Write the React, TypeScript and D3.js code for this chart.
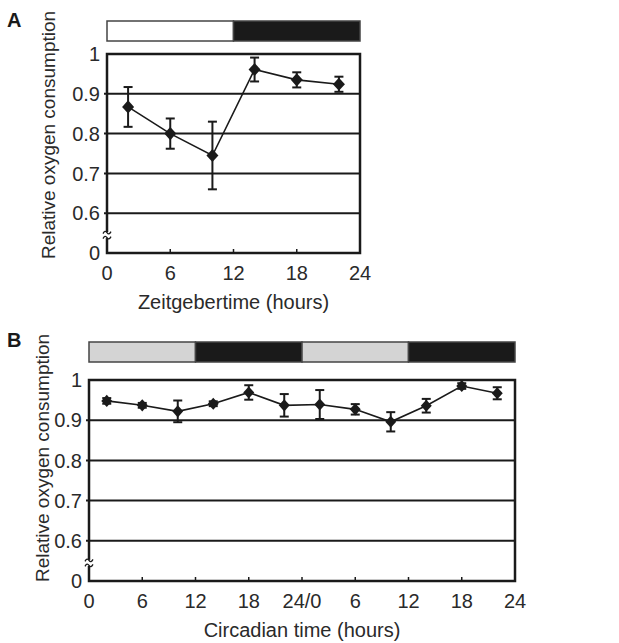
import React from 'react';
import * as d3 from 'd3';

// panel A: zeitgeber time (LD)
const ztHours = [2, 6, 10, 14, 18, 22];
const ztMean = [0.867, 0.8, 0.745, 0.961, 0.935, 0.924];
const ztErr = [0.05, 0.038, 0.085, 0.03, 0.019, 0.019];
const ztTicks = [0, 6, 12, 18, 24];
const ztTickLabels = ['0', '6', '12', '18', '24'];
const ztPhases = [
  { from: 0, to: 12, fill: '#ffffff' },
  { from: 12, to: 24, fill: '#1a1a1a' },
];

// panel B: circadian time (DD, two cycles)
const ctHours = [2, 6, 10, 14, 18, 22, 26, 30, 34, 38, 42, 46];
const ctMean = [0.948, 0.937, 0.922, 0.941, 0.969, 0.937, 0.939, 0.927, 0.896, 0.936, 0.985, 0.967];
const ctErr = [0.007, 0.006, 0.027, 0.006, 0.018, 0.028, 0.036, 0.013, 0.024, 0.017, 0.007, 0.015];
const ctTicks = [0, 6, 12, 18, 24, 30, 36, 42, 48];
const ctTickLabels = ['0', '6', '12', '18', '24/0', '6', '12', '18', '24'];
const ctPhases = [
  { from: 0, to: 12, fill: '#d4d4d4' },
  { from: 12, to: 24, fill: '#1a1a1a' },
  { from: 24, to: 36, fill: '#d4d4d4' },
  { from: 36, to: 48, fill: '#1a1a1a' },
];

const yTicks = [0.5, 0.6, 0.7, 0.8, 0.9, 1];
const yTickLabels = ['0', '0.6', '0.7', '0.8', '0.9', '1'];

const FONT = '"Liberation Sans", Arial, Helvetica, sans-serif';
const INK = '#1a1a1a';
const TXT = '#2a2a2a';

const Panel = ({ letter, hours, mean, err, ticks, tickLabels, phases, xDomain, x0, x1, yTop, yBottom, barTop, title, labelX, labelY, letterY, size }) => {
  const x = d3.scaleLinear().domain(xDomain).range([x0, x1]);
  const y = d3.scaleLinear().domain([0.5, 1]).range([yBottom, yTop]);
  const pts = hours.map((h, i) => [x(h), y(mean[i])]);
  const line = d3.line()(pts);
  const dx = size, dy = size * 1.1;
  const diamond = `M0,${-dy}L${dx},0L0,${dy}L${-dx},0Z`;
  const breakY = y(0.545);

  return (
    <g fontFamily={FONT} fill={TXT}>
      <text x={7} y={letterY} fontSize={20} fontWeight="bold" fill={INK}>{letter}</text>

      {/* light / dark bar */}
      {phases.map((p, i) => (
        <rect key={i} x={x(p.from)} y={barTop} width={x(p.to) - x(p.from)} height={20}
          fill={p.fill} stroke="#444" strokeWidth={1.5} />
      ))}

      {/* grid lines */}
      {yTicks.slice(1, -1).map(t => (
        <line key={t} x1={x0 - 3} x2={x1} y1={y(t)} y2={y(t)} stroke={INK} strokeWidth={2} />
      ))}
      <rect x={x0} y={y(1)} width={x1 - x0} height={y(0.5) - y(1)} fill="none" stroke={INK} strokeWidth={2.5} />

      {/* axis break */}
      <rect x={x0 - 4} y={breakY - 3} width={8} height={6} fill="#fff" />
      {[-2.5, 2.5].map(o => (
        <path key={o} d={`M${x0 - 4},${breakY + o + 1} q2,-4 4,-1 q2,3 4,-1`} fill="none" stroke={INK} strokeWidth={1.3} />
      ))}

      {/* y ticks */}
      {yTicks.map((t, i) => (
        <text key={t} x={x0 - 7} y={y(t)} dy="0.36em" textAnchor="end" fontSize={20}>{yTickLabels[i]}</text>
      ))}

      {/* x ticks */}
      {ticks.map((t, i) => (
        <g key={i}>
          {i > 0 && i < ticks.length - 1 && (
            <line x1={x(t)} x2={x(t)} y1={y(0.5)} y2={y(0.5) - 4} stroke={INK} strokeWidth={1.5} />
          )}
          <text x={x(t)} y={y(0.5) + 27} textAnchor="middle" fontSize={20}>{tickLabels[i]}</text>
        </g>
      ))}

      <text x={(x0 + x1) / 2} y={y(0.5) + 56} textAnchor="middle" fontSize={20}>{title}</text>
      <text transform={`translate(${labelX},${labelY}) rotate(-90)`} textAnchor="middle" fontSize={19}>
        Relative oxygen consumption
      </text>

      {/* series */}
      <path d={line} fill="none" stroke={INK} strokeWidth={1.6} />
      {hours.map((h, i) => (
        <g key={h} stroke={INK} strokeWidth={2}>
          <line x1={x(h)} x2={x(h)} y1={y(mean[i] + err[i])} y2={y(mean[i] - err[i])} />
          <line x1={x(h) - 4.5} x2={x(h) + 4.5} y1={y(mean[i] + err[i])} y2={y(mean[i] + err[i])} />
          <line x1={x(h) - 4.5} x2={x(h) + 4.5} y1={y(mean[i] - err[i])} y2={y(mean[i] - err[i])} />
        </g>
      ))}
      {pts.map(([px, py], i) => (
        <path key={i} d={diamond} transform={`translate(${px},${py})`} fill={INK} />
      ))}
    </g>
  );
};

export default function App() {
  return (
    <svg width={619} height={643} style={{ position: 'absolute', left: 0, top: 0, background: '#fff' }}>
      <Panel letter="A" hours={ztHours} mean={ztMean} err={ztErr} ticks={ztTicks} tickLabels={ztTickLabels}
        phases={ztPhases} xDomain={[0, 24]} x0={107} x1={360} yTop={54} yBottom={253} barTop={21}
        title="Zeitgebertime (hours)" labelX={55} labelY={135} letterY={27} size={6} />
      <Panel letter="B" hours={ctHours} mean={ctMean} err={ctErr} ticks={ctTicks} tickLabels={ctTickLabels}
        phases={ctPhases} xDomain={[0, 48]} x0={89} x1={515} yTop={380} yBottom={581} barTop={342}
        title="Circadian time (hours)" labelX={49} labelY={458} letterY={347} size={5.5} />
    </svg>
  );
}
